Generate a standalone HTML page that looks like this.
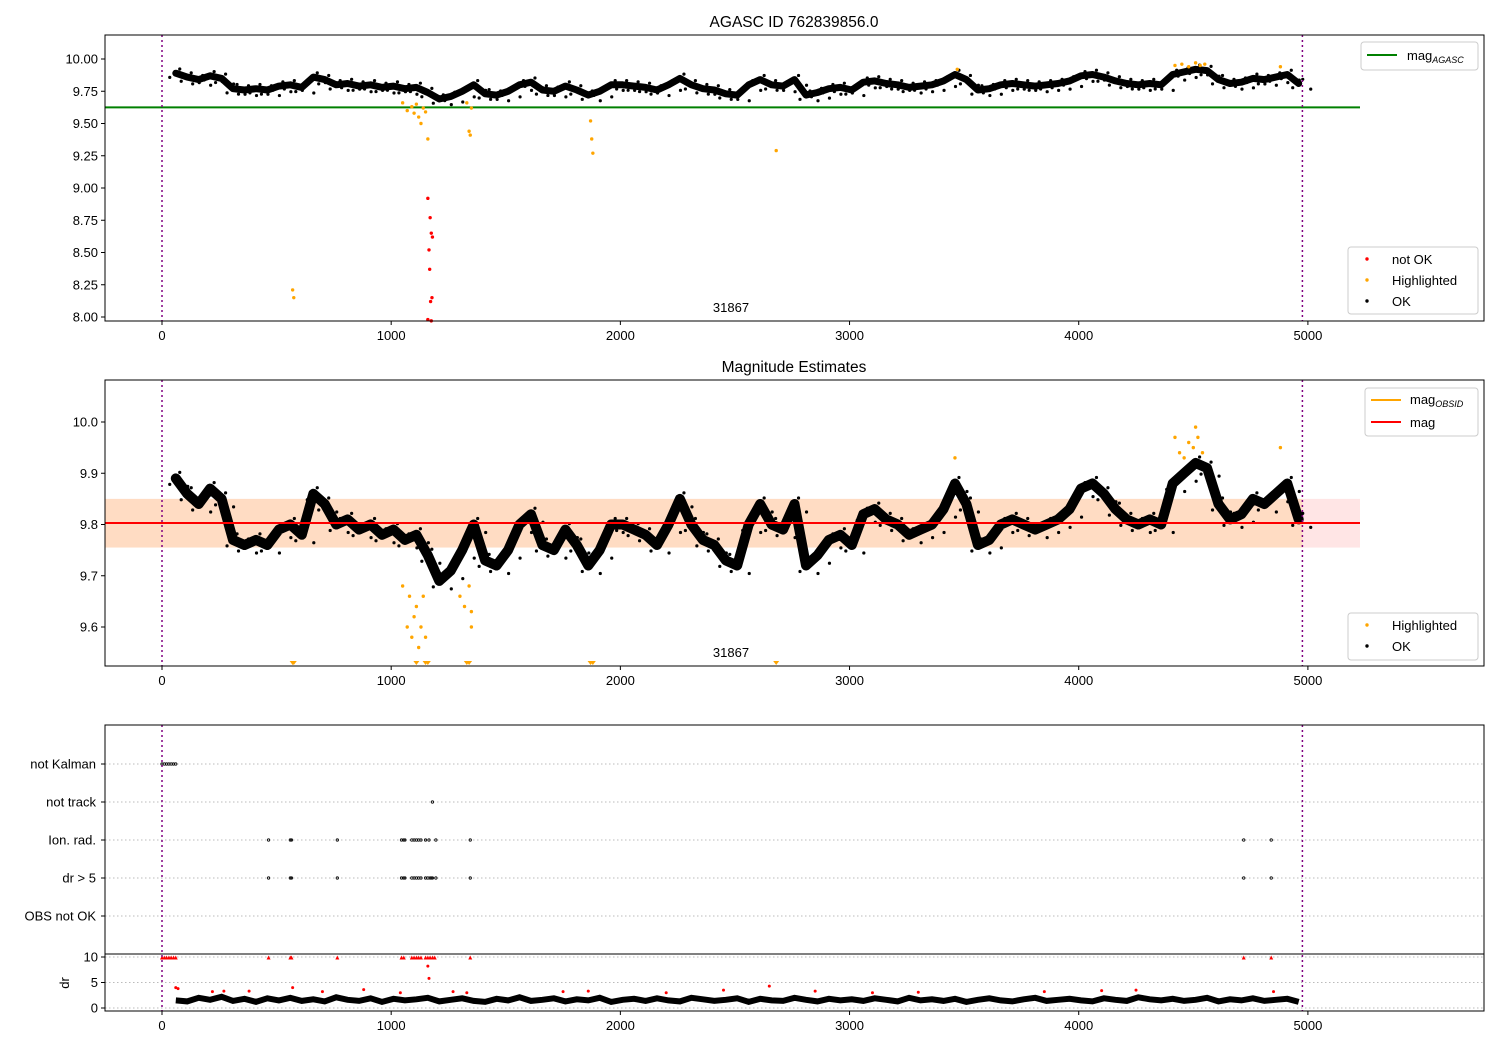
<!DOCTYPE html>
<html><head><meta charset="utf-8">
<style>
html,body{margin:0;padding:0;background:#fff;}
svg{display:block;font-family:"Liberation Sans","DejaVu Sans",sans-serif;}
</style></head>
<body>
<svg id="fig" width="1500" height="1050" viewBox="0 0 1500 1050" xmlns="http://www.w3.org/2000/svg">
<rect width="1500" height="1050" fill="#fff"/>
</svg>
<script>
// ---------- data ----------
const timeX = [];
for (let i = 0; i < 99; i++) timeX.push(60 + i * 50);
const magValues = [9.89,9.86,9.84,9.87,9.85,9.77,9.76,9.77,9.76,9.79,9.80,9.78,9.86,9.84,9.80,9.81,9.79,9.80,9.78,9.79,
9.77,9.78,9.74,9.69,9.71,9.75,9.80,9.73,9.72,9.75,9.80,9.82,9.76,9.75,9.79,9.76,9.72,9.75,9.80,9.80,
9.79,9.78,9.76,9.80,9.85,9.80,9.77,9.76,9.73,9.72,9.80,9.84,9.80,9.79,9.84,9.72,9.74,9.77,9.78,9.76,
9.82,9.83,9.81,9.80,9.78,9.79,9.80,9.83,9.88,9.84,9.76,9.77,9.80,9.81,9.80,9.79,9.80,9.81,9.83,9.87,
9.88,9.86,9.83,9.81,9.80,9.81,9.80,9.88,9.90,9.92,9.91,9.84,9.81,9.82,9.85,9.84,9.86,9.88,9.81];
const hiX1 = [570,575,1050,1070,1090,1100,1110,1120,1130,1140,1150,1160,1330,1340,1345,1350,1870,1875,1880,2680,3470,4420,4450,4480,4510,4530,4550,4880];
const hiY1 = [8.21,8.15,9.66,9.60,9.63,9.58,9.65,9.55,9.50,9.62,9.59,9.38,9.66,9.44,9.41,9.62,9.52,9.38,9.27,9.29,9.92,9.95,9.96,9.94,9.97,9.95,9.96,9.94];
const badX = [1160,1170,1175,1180,1165,1168,1178,1172,1160,1175];
const badY = [8.92,8.77,8.65,8.62,8.52,8.37,8.15,8.12,7.98,7.97];
const hiX2 = [1050,1070,1080,1090,1100,1110,1120,1130,1140,1150,1300,1320,1340,1350,1350,3460,4420,4440,4460,4480,4500,4510,4520,4540,4880];
const hiY2 = [9.68,9.60,9.66,9.58,9.62,9.64,9.56,9.60,9.66,9.58,9.66,9.64,9.68,9.60,9.63,9.93,9.97,9.94,9.93,9.96,9.95,9.99,9.97,9.94,9.95];
const triX = [570,575,1110,1150,1160,1330,1340,1870,1880,2680];
const magAgasc = 9.625;
const magMean = 9.803;
const bandLo = 9.755, bandHi = 9.850;
const flagNames = ["not Kalman","not track","Ion. rad.","dr > 5","OBS not OK"];
const kalmanX = [0,10,20,30,40,50,60];
const trackX = [1180];
const ionX = [465,560,565,765,1045,1055,1060,1090,1100,1110,1120,1130,1150,1165,1195,1345,4720,4840];
const dr5X = [465,560,565,765,1045,1055,1060,1090,1100,1110,1120,1130,1150,1160,1170,1175,1180,1195,1345,4720,4840];
const drBase = [1.5,1.3,2.0,1.6,2.2,1.4,1.8,1.2,1.9,1.5,2.0,1.4,1.7,1.3,2.1,1.6,1.4,1.9,1.2,1.8,
1.5,1.7,2.0,1.3,1.6,1.9,1.4,1.2,1.8,1.5,2.1,1.4,1.6,1.9,1.3,1.7,1.5,2.0,1.2,1.6,
1.8,1.4,1.9,1.5,1.3,2.0,1.7,1.4,1.6,1.9,1.2,1.8,1.5,1.4,2.0,1.6,1.3,1.8,1.5,1.7,
1.4,1.9,1.6,1.3,2.0,1.5,1.7,1.4,1.8,1.2,1.6,1.9,1.5,1.3,1.7,2.0,1.4,1.6,1.8,1.5,
1.3,1.9,1.6,1.4,2.1,1.7,1.5,1.8,1.4,1.6,2.0,1.3,1.7,1.5,1.9,1.4,1.6,1.8,1.2];
const drRedX = [60,70,220,270,380,570,700,880,1040,1160,1165,1270,1330,1750,1860,2200,2450,2650,2850,3100,3300,3850,4100,4250,4850];
const drRedY = [4,3.8,3.2,3.3,3.3,4,3.2,3.6,3.0,8.2,5.8,3.2,3.0,3.2,3.3,3.0,3.5,4.3,3.3,3.0,3.1,3.2,3.4,3.5,3.2];
const drTenX = [0,10,20,30,40,50,60,465,560,565,765,1045,1055,1090,1100,1110,1120,1130,1150,1160,1170,1180,1190,1345,4720,4840];

// ---------- helpers ----------
const NS = "http://www.w3.org/2000/svg";
const svg = document.getElementById("fig");
function mk(tag, attrs, parent) {
  const e = document.createElementNS(NS, tag);
  for (const k in attrs) e.setAttribute(k, attrs[k]);
  (parent || svg).appendChild(e);
  return e;
}
const L = 105, R = 1484;
const xs = v => 162 + v * 0.22918;
function yScale(v0, p0, v1, p1) { return v => p0 + (v - v0) * (p1 - p0) / (v1 - v0); }
const y1 = yScale(10.0, 59, 8.0, 317);
const y2 = yScale(10.0, 422, 9.6, 627);
const yd = yScale(0, 1008, 10, 957);
const flagY = [764, 802, 840, 878, 916];

function frame(top, bottom, name) {
  const r = mk("rect", {x: L, y: top, width: R - L, height: bottom - top, fill: "none", stroke: "#000", "stroke-width": 1});
  
  
}
function text(x, y, s, opts, name) {
  const t = mk("text", Object.assign({x: x, y: y, "font-size": 13, fill: "#000"}, opts || {}));
  t.textContent = s;
  
  
  return t;
}
function xAxis(bottom, prefix) {
  [0,1000,2000,3000,4000,5000].forEach(v => {
    mk("line", {x1: xs(v), x2: xs(v), y1: bottom, y2: bottom + 4, stroke: "#000"});
    text(xs(v), bottom + 19, String(v), {"text-anchor": "middle"}, prefix + "-x-tick-" + v);
  });
}
function yTicks(vals, ys, fmt, prefix) {
  vals.forEach(v => {
    mk("line", {x1: L - 4, x2: L, y1: ys(v), y2: ys(v), stroke: "#000"});
    text(L - 7, ys(v) + 4.5, fmt(v), {"text-anchor": "end"}, prefix + "-y-tick");
  });
}
function vlines(top, bottom) {
  [0, 4976].forEach(v => {
    const l = mk("line", {x1: xs(v), x2: xs(v), y1: top, y2: bottom, stroke: "#800080", "stroke-width": 1.5, "stroke-dasharray": "2,3"});
    
    
  });
}
function dots(xarr, yarr, ys, color, r, name) {
  const g = mk("g", {});
  
  
  xarr.forEach((x, i) => mk("circle", {cx: xs(x), cy: ys(yarr[i]), r: r, fill: color}, g));
}
function band(xarr, yarr, ys, w, name) {
  const pts = xarr.map((x, i) => xs(x).toFixed(1) + "," + ys(yarr[i]).toFixed(1)).join(" ");
  const p = mk("polyline", {points: pts, fill: "none", stroke: "#000", "stroke-width": w, "stroke-linejoin": "round", "stroke-linecap": "round"});
  
  
  xarr.forEach((x, i) => {
    mk("circle", {cx: xs(x) + 4, cy: ys(yarr[i]) - w * 0.6, r: 1.6, fill: "#000"});
    mk("circle", {cx: xs(x) - 6, cy: ys(yarr[i]) + w * 0.6, r: 1.6, fill: "#000"});
    mk("circle", {cx: xs(x) + 12, cy: ys(yarr[i]) + w * 0.8, r: 1.6, fill: "#000"});
  });
}
function legendBox(x, y, w, h, name) {
  const r = mk("rect", {x: x, y: y, width: w, height: h, rx: 3, fill: "#fff", "fill-opacity": 0.8, stroke: "#ccc"});
  
  
}

// ---------- panel 1 ----------
text(794, 27, "AGASC ID 762839856.0", {"text-anchor": "middle", "font-size": 15.5}, "top-chart-title");
let gl = mk("line", {x1: L, x2: 1360, y1: y1(magAgasc), y2: y1(magAgasc), stroke: "green", "stroke-width": 2});


band(timeX, magValues, y1, 7, "top-ok-points");
dots(hiX1, hiY1, y1, "orange", 1.7, "top-highlighted-points");
dots(badX, badY, y1, "red", 1.7, "top-not-ok-points");
vlines(35, 321);
text(731, 312, "31867", {"text-anchor": "middle"}, "top-obsid-label");
frame(35, 321, "top-plot-area");
xAxis(321, "top");
yTicks([10.0,9.75,9.5,9.25,9.0,8.75,8.5,8.25,8.0], y1, v => v.toFixed(2), "top");
legendBox(1361, 42, 117, 28, "top-legend-upper");
mk("line", {x1: 1367, x2: 1397, y1: 55, y2: 55, stroke: "green", "stroke-width": 2});
let t1 = text(1407, 60, "mag", {}, "legend-mag-agasc");
mk("tspan", {"font-size": 9, "font-style": "italic", dy: 3}, t1).textContent = "AGASC";
legendBox(1348, 247, 130, 67, "top-legend-lower");
mk("circle", {cx: 1367, cy: 259, r: 1.7, fill: "red"});
text(1392, 264, "not OK", {}, "legend-not-ok");
mk("circle", {cx: 1367, cy: 280, r: 1.7, fill: "orange"});
text(1392, 285, "Highlighted", {}, "legend-highlighted");
mk("circle", {cx: 1367, cy: 301, r: 1.7, fill: "#000"});
text(1392, 306, "OK", {}, "legend-ok");

// ---------- panel 2 ----------
text(794, 372, "Magnitude Estimates", {"text-anchor": "middle", "font-size": 15.5}, "middle-chart-title");
let pb = mk("rect", {x: L, y: y2(bandHi), width: 1360 - L, height: y2(bandLo) - y2(bandHi), fill: "red", "fill-opacity": 0.1});


let ob = mk("rect", {x: L, y: y2(bandHi), width: xs(4976) - L, height: y2(bandLo) - y2(bandHi), fill: "orange", "fill-opacity": 0.15});


band(timeX, magValues, y2, 10, "middle-ok-points");
dots(hiX2, hiY2, y2, "orange", 1.7, "middle-highlighted-points");
const tg = mk("g", {});


triX.forEach(x => mk("polygon", {points: `${xs(x)-3},661 ${xs(x)+3},661 ${xs(x)},665`, fill: "orange"}, tg));
let ml = mk("line", {x1: L, x2: 1360, y1: y2(magMean), y2: y2(magMean), stroke: "red", "stroke-width": 2});


vlines(380, 666);
text(731, 657, "31867", {"text-anchor": "middle"}, "middle-obsid-label");
frame(380, 666, "middle-plot-area");
xAxis(666, "middle");
yTicks([10.0,9.9,9.8,9.7,9.6], y2, v => v.toFixed(1), "middle");
legendBox(1365, 388, 113, 48, "middle-legend-upper");
mk("line", {x1: 1371, x2: 1401, y1: 400, y2: 400, stroke: "orange", "stroke-width": 2});
let t2 = text(1410, 404, "mag", {}, "legend-mag-obsid");
mk("tspan", {"font-size": 9, "font-style": "italic", dy: 3}, t2).textContent = "OBSID";
mk("line", {x1: 1371, x2: 1401, y1: 422, y2: 422, stroke: "red", "stroke-width": 2});
text(1410, 427, "mag", {}, "legend-mag");
legendBox(1348, 613, 130, 47, "middle-legend-lower");
mk("circle", {cx: 1367, cy: 625, r: 1.7, fill: "orange"});
text(1392, 630, "Highlighted", {}, "legend-highlighted-2");
mk("circle", {cx: 1367, cy: 646, r: 1.7, fill: "#000"});
text(1392, 651, "OK", {}, "legend-ok-2");

// ---------- panel 3 flags ----------
flagNames.forEach((n, i) => {
  mk("line", {x1: L, x2: R, y1: flagY[i], y2: flagY[i], stroke: "#bbb", "stroke-dasharray": "1.5,2.5"});
  mk("line", {x1: L - 4, x2: L, y1: flagY[i], y2: flagY[i], stroke: "#000"});
  text(L - 9, flagY[i] + 4.5, n, {"text-anchor": "end"}, "flag-label-" + i);
});
[kalmanX, trackX, ionX, dr5X].forEach((arr, i) => {
  const g = mk("g", {});
  
  
  arr.forEach(x => mk("circle", {cx: xs(x), cy: flagY[i], r: 1.2, fill: "none", stroke: "#000", "stroke-width": 0.8}, g));
});
// dr
[0,5,10].forEach(v => mk("line", {x1: L, x2: R, y1: yd(v), y2: yd(v), stroke: "#bbb", "stroke-dasharray": "1.5,2.5"}));
const drl = mk("polyline", {points: timeX.map((x, i) => xs(x).toFixed(1) + "," + yd(drBase[i]).toFixed(1)).join(" "), fill: "none", stroke: "#000", "stroke-width": 6});


dots(drRedX, drRedY, yd, "red", 1.5, "dr-red-points");
const tt = mk("g", {});


drTenX.forEach(x => mk("polygon", {points: `${xs(x)-2},959.5 ${xs(x)+2},959.5 ${xs(x)},955.5`, fill: "red"}, tt));
vlines(725, 1011);
mk("line", {x1: L, x2: R, y1: 954, y2: 954, stroke: "#000", "stroke-width": 1});
frame(725, 1011, "bottom-plot-area");
xAxis(1011, "bottom");
yTicks([0,5,10], yd, v => String(v), "dr");
text(0, 0, "dr", {transform: "translate(69,983) rotate(-90)", "text-anchor": "middle"}, "dr-axis-title");
</script>
</body></html>
